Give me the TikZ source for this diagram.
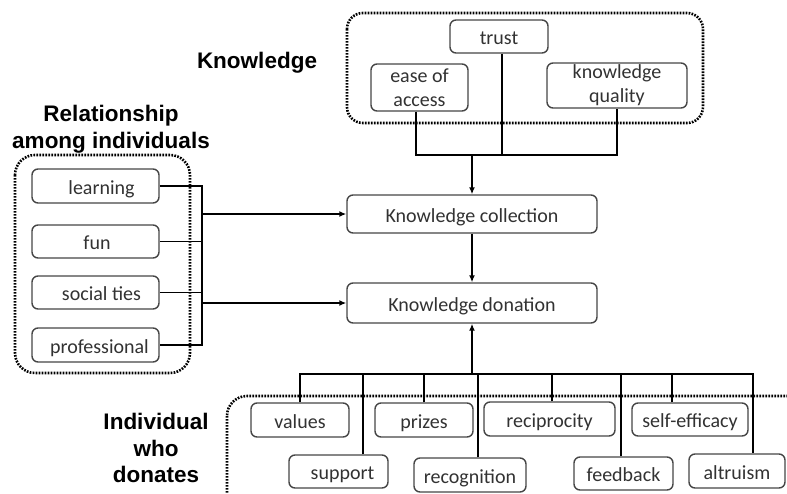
\documentclass[tikz,border=0pt]{standalone}
\usepackage{fontspec}
\setmainfont{Carlito}
\newfontfamily\labfont{Liberation Sans}
\usetikzlibrary{arrows.meta,calc}
\definecolor{boxline}{RGB}{70,70,70}
\definecolor{boxtext}{RGB}{50,50,50}
\tikzset{
  box/.style={draw=boxline, line width=1.4pt, rounded corners=6pt, fill=white,
    inner sep=0pt, font=\fontsize{20}{24}\selectfont, text=boxtext, align=center},
  onebox/.style={box, text height=17pt, text depth=1pt},
  grp/.style={line width=2.6pt, dash pattern=on 1.7pt off 1.3pt, rounded corners=20pt},
  conn/.style={line width=1.8pt, black},
  arr/.style={conn, -{Latex[length=7pt,width=6pt]}},
  lab/.style={font=\labfont\bfseries\fontsize{22.5}{26.5}\selectfont, align=center, inner sep=0pt}
}
\begin{document}
\begin{tikzpicture}[x=1pt,y=-1pt]
\path[use as bounding box] (0,0) rectangle (787,493);
\clip (0,0) rectangle (787,493);

% group frames
\draw[grp, rounded corners=16pt] (347,13) rectangle (703,123);
\draw[grp] (15,155) rectangle (190,373);
\draw[grp] (227,396) rectangle (830,560);

% labels
\node[lab] (lknow) at (257,63) {Knowledge};
\node[lab] (lrel) at (111,129) {Relationship\\among individuals};
\node[lab] (lind) at (156,448) {Individual\\who\\donates};

% top group
\node[onebox, minimum width=98pt, minimum height=33pt] (trust) at (499,36.5) {trust};
\node[box, minimum width=97pt, minimum height=47pt] (ease) at (419.5,87.5) {ease of\\access};
\node[box, minimum width=140pt, minimum height=45pt] (kq) at (617,85.5) {knowledge\\quality};

% central
\node[onebox, minimum width=250pt, minimum height=38pt] (kc) at (472,214) {Knowledge collection};
\node[onebox, minimum width=250pt, minimum height=40pt] (kd) at (472,303) {Knowledge donation};

% left group
\node[onebox, minimum width=127pt, minimum height=34pt] (learning) at (95.5,186) {\hspace*{12pt}learning};
\node[onebox, minimum width=127pt, minimum height=33pt] (fun) at (95.5,241.5) {\hspace*{3pt}fun};
\node[onebox, minimum width=127pt, minimum height=33pt] (social) at (95.5,292.5) {\hspace*{12pt}social ties};
\node[onebox, minimum width=127pt, minimum height=34pt] (prof) at (95.5,345) {\hspace*{8pt}professional};

% bottom group
\node[onebox, minimum width=98pt, minimum height=34pt] (values) at (300,420) {values};
\node[onebox, minimum width=98pt, minimum height=34pt] (prizes) at (424,420) {prizes};
\node[onebox, minimum width=131pt, minimum height=34pt] (recip) at (549.5,419) {reciprocity};
\node[onebox, minimum width=116pt, minimum height=33pt] (selfeff) at (690,419.5) {self-efficacy};
\node[onebox, minimum width=99pt, minimum height=33pt] (support) at (338.5,471.5) {\hspace*{8pt}support};
\node[onebox, minimum width=112pt, minimum height=34pt] (recog) at (470,475) {recognition};
\node[onebox, minimum width=99pt, minimum height=33pt] (feedback) at (623.5,473.5) {feedback};
\node[onebox, minimum width=96pt, minimum height=34pt] (altruism) at (737,471) {altruism};

% top connectors
\coordinate (topbus) at (472,155);
\coordinate (ea) at ($(ease.south)+(-3.5,0)$);
\coordinate (tr) at ($(trust.south)+(3,0)$);
\draw[conn] (ea) -- (ea |- topbus) -- (kq.south |- topbus) -- (kq.south);
\draw[conn] (tr) -- (tr |- topbus);
\draw[arr] (topbus) -- (kc.north);
\draw[arr] (kc.south) -- (kd.north);

% left connectors
\coordinate (brk) at (202,0);
\draw[conn] (learning.east) -- (learning.east -| brk) -- (prof.east -| brk) -- (prof.east);
\draw[conn] (fun.east) -- (fun.east -| brk);
\draw[conn] (social.east) -- (social.east -| brk);
\draw[arr] (kc.west -| brk) -- (kc.west);
\draw[arr] (kd.west -| brk) -- (kd.west);

% bottom connectors
\coordinate (bus) at (472,374);
\coordinate (sp) at ($(support.north west)+(75,0)$);
\coordinate (rg) at ($(recog.north west)+(65,0)$);
\coordinate (rc) at ($(recip.north)+(2.5,0)$);
\coordinate (fb) at ($(feedback.north)+(-2.5,0)$);
\coordinate (se) at ($(selfeff.north west)+(41,0)$);
\coordinate (al) at ($(altruism.north west)+(65,0)$);
\draw[conn] (values.north) -- (values.north |- bus) -- (al |- bus) -- (al);
\draw[conn] (sp) -- (sp |- bus);
\draw[conn] (prizes.north) -- (prizes.north |- bus);
\draw[conn] (rg) -- (rg |- bus);
\draw[conn] (rc) -- (rc |- bus);
\draw[conn] (fb) -- (fb |- bus);
\draw[conn] (se) -- (se |- bus);
\draw[arr] (bus) -- (kd.south);
\end{tikzpicture}
\end{document}
